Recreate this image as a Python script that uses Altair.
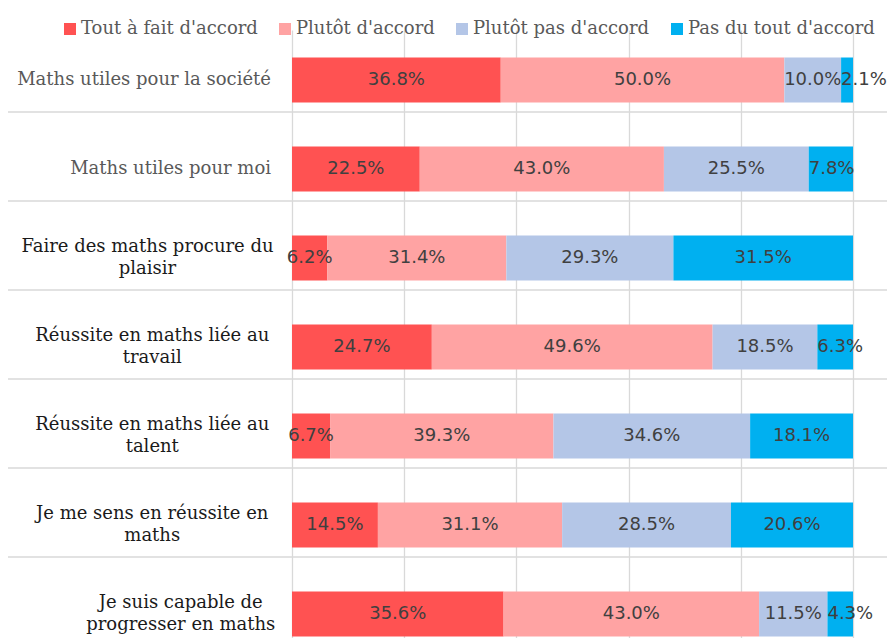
import altair as alt
import pandas as pd

categories = [
    "Maths utiles pour la société",
    "Maths utiles pour moi",
    "Faire des maths procure du\nplaisir",
    "Réussite en maths liée au\ntravail",
    "Réussite en maths liée au\ntalent",
    "Je me sens en réussite en\nmaths",
    "Je suis capable de\nprogresser en maths",
]
series = ["Tout à fait d'accord", "Plutôt d'accord", "Plutôt pas d'accord", "Pas du tout d'accord"]
colors = ["#FF5252", "#FFA3A3", "#B4C6E7", "#00B0F0"]

tout_a_fait = [36.8, 22.5, 6.2, 24.7, 6.7, 14.5, 35.6]
plutot = [50.0, 43.0, 31.4, 49.6, 39.3, 31.1, 43.0]
plutot_pas = [10.0, 25.5, 29.3, 18.5, 34.6, 28.5, 11.5]
pas_du_tout = [2.1, 7.8, 31.5, 6.3, 18.1, 20.6, 4.3]

values = [tout_a_fait, plutot, plutot_pas, pas_du_tout]
rows = []
for k, s in enumerate(series):
    for i, c in enumerate(categories):
        rows.append({"cat": c, "series": s, "order": k, "value": values[k][i]})
df = pd.DataFrame(rows)
cat_df = pd.DataFrame({"cat": categories})

W, H = 561, 634
PADL, PADR, PADT = 284, 34, 22
yenc = alt.Y("cat:N", sort=categories,
             scale=alt.Scale(paddingInner=0.494, paddingOuter=0.309), axis=None)
xaxis = alt.Axis(values=[0, 0.2, 0.4, 0.6, 0.8, 1], labels=False, ticks=False,
                 domain=False, grid=True, gridColor="#D9D9D9", gridWidth=1.3, title=None)
xscale = alt.Scale(domain=[0, 1], nice=False)

base = alt.Chart(df).transform_joinaggregate(
    total="sum(value)", groupby=["cat"]
).transform_window(
    cum="sum(value)", sort=[alt.SortField("order")], groupby=["cat"],
    frame=[None, 0]
).transform_calculate(
    start="(datum.cum - datum.value) / datum.total",
    end="datum.cum / datum.total",
    mid="(datum.cum - datum.value / 2) / datum.total",
    lab="format(datum.value, '.1f') + '%'",
    small="datum.order == 3 && datum.value / datum.total < 0.1",
)

bars = base.mark_bar().encode(
    x=alt.X("start:Q", scale=xscale, axis=xaxis),
    x2="end:Q",
    y=yenc,
    color=alt.Color("series:N", scale=alt.Scale(domain=series, range=colors),
                    legend=alt.Legend(title=None, orient="none", direction="horizontal",
                                      legendX=-231, legendY=-10, symbolType="square",
                                      symbolSize=144, symbolStrokeWidth=0,
                                      labelFont="DejaVu Serif", labelFontSize=18,
                                      labelColor="#595959", labelOffset=2, labelLimit=0,
                                      columnPadding=18, padding=0)),
)

txt_style = dict(font="DejaVu Sans", fontSize=18, color="#404040", baseline="middle")
txt_c = base.transform_filter("!datum.small").mark_text(align="center", **txt_style).encode(
    x=alt.X("mid:Q", scale=xscale, axis=xaxis), y=yenc, text="lab:N")
txt_l = base.transform_filter("datum.small").mark_text(align="left", dx=0, **txt_style).encode(
    x=alt.X("start:Q", scale=xscale, axis=xaxis), y=yenc, text="lab:N")

seps = alt.Chart(cat_df).mark_rule(color="#D9D9D9", strokeWidth=1.5, yOffset=32).encode(
    y=yenc, x=alt.value(-PADL), x2=alt.value(W + PADR))

lab_base = alt.Chart(cat_df).transform_calculate(
    lines="split(datum.cat, '\\n')",
    maxlen="max(length(split(datum.cat, '\\n')[0]), length(split(datum.cat, '\\n')[1] || ''))",
    cx="-21 - datum.maxlen * 9.5 / 2",
)
lab_single = lab_base.transform_filter("indexof(datum.cat, '\\n') < 0").mark_text(
    align="right", baseline="middle", font="DejaVu Serif", fontSize=18, color="#595959"
).encode(y=yenc, x=alt.value(-21), text="lines:N")
lab_multi = lab_base.transform_filter("indexof(datum.cat, '\\n') >= 0").mark_text(
    align="center", baseline="middle", font="DejaVu Serif", fontSize=18, color="#1A1A1A",
    lineHeight=22, dy=-11
).encode(y=yenc, x=alt.X("cx:Q", scale=None, axis=None), text="lines:N")

chart = alt.layer(seps, bars, txt_c, txt_l, lab_single, lab_multi).properties(
    width=W, height=H,
    autosize=alt.AutoSizeParams(type="none"),
    padding={"left": PADL, "top": PADT, "right": PADR, "bottom": 0},
).configure_view(stroke=None)

chart.save("out.html", embed_options={"renderer": "svg", "actions": False})
